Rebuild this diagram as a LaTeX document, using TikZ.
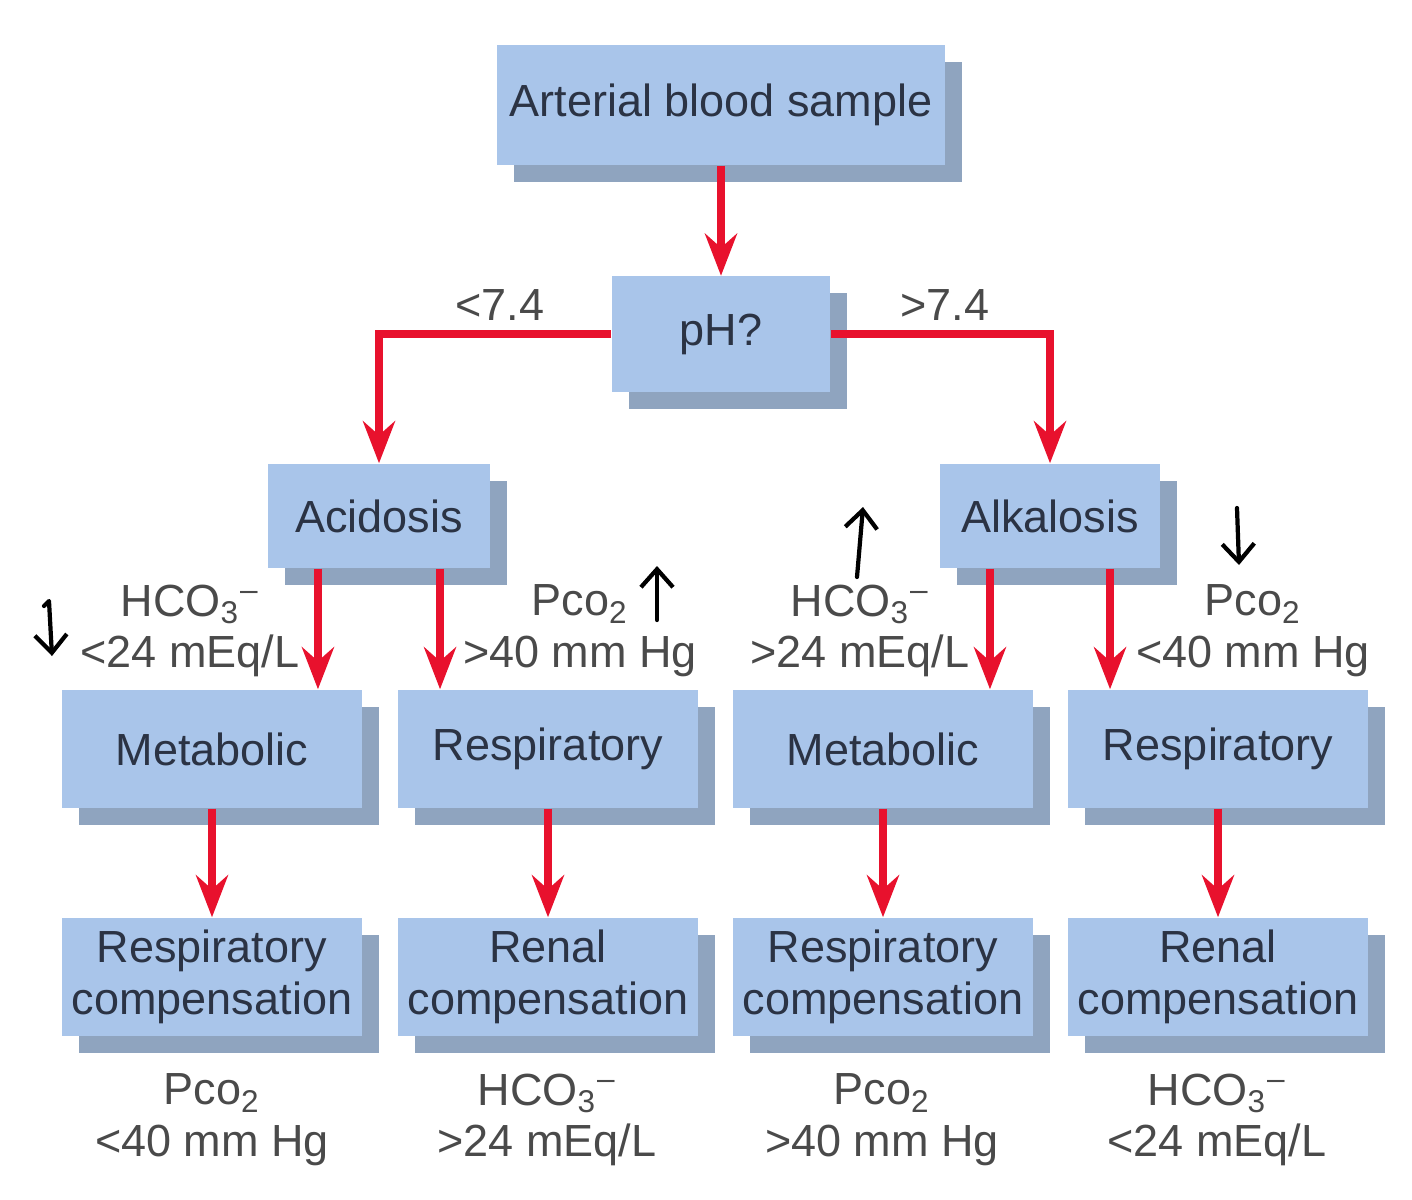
\documentclass[tikz,border=0pt]{standalone}
\usepackage{fontspec}
\setmainfont{Liberation Sans}
\usetikzlibrary{calc,positioning,shadows,arrows.meta}

\definecolor{boxblue}{HTML}{A9C5EA}
\definecolor{boxshade}{HTML}{8FA4BF}
\definecolor{arrowred}{HTML}{E8112D}
\definecolor{boxtext}{HTML}{2B3344}
\definecolor{labeltext}{HTML}{4A4A4A}

\newcommand{\hco}{HCO\textsubscript{3}\textsuperscript{--}}
\newcommand{\pco}{Pco\textsubscript{2}}

\begin{document}
\begin{tikzpicture}[x=0.01cm,y=-0.01cm]
\useasboundingbox (0,0) rectangle (1412,1200);
\tikzstyle{box}=[rectangle, fill=boxblue, text=boxtext, align=center,
                 inner sep=2pt, font=\fontsize{12.8}{14.7}\selectfont,
                 drop shadow={shadow xshift=0.17cm, shadow yshift=-0.17cm,
                              fill=boxshade, opacity=1}]
\tikzstyle{wide}=[minimum width=3cm, minimum height=1.18cm]
\tikzstyle{lbl}=[text=labeltext, align=center, inner sep=0pt,
                 font=\fontsize{12.8}{14.7}\selectfont]
\tikzstyle{redarrow}=[draw=arrowred, line width=2.5pt,
                      -{Stealth[length=4.2mm, width=3.2mm, inset=1.4mm]}]
\tikzstyle{pen}=[black, line width=1.2pt, line cap=round, line join=round,
                 -{Straight Barb[length=1.8mm, width=3.2mm]}]
% top of the tree
\node[box, minimum width=4.48cm, minimum height=1.2cm] (art) at (721,105) {Arterial blood sample};
\node[box, minimum width=2.18cm, minimum height=1.15cm] (ph) at (721,334) {pH?};
\node[box, minimum width=2.22cm, minimum height=1.04cm] (acid) at (379,516) {Acidosis};
\node[box, minimum width=2.2cm, minimum height=1.04cm] (alk) at (1050,516) {Alkalosis};
% disorders
\node[box, wide] (met1) at (212,749) {Metabolic};
\node[box, wide] (resp1) at (548,749) {Respiratory};
\node[box, wide] (met2) at (883,749) {Metabolic};
\node[box, wide] (resp2) at (1218,749) {Respiratory};
% compensation
\node[box, wide] (comp1) at (212,977) {Respiratory\\compensation};
\node[box, wide] (comp2) at (548,977) {Renal\\compensation};
\node[box, wide] (comp3) at (883,977) {Respiratory\\compensation};
\node[box, wide] (comp4) at (1218,977) {Renal\\compensation};
% labels
\node[lbl] (lt) at (500,305) {<7.4};
\node[lbl] (gt) at (945,305) {>7.4};
\node[lbl] (hco1) at (190,631) {\hco\\<24 mEq/L};
\node[lbl] (pco1) at (580,631) {\pco\\>40 mm Hg};
\node[lbl] (hco2) at (860,631) {\hco\\>24 mEq/L};
\node[lbl] (pco2) at (1253,631) {\pco\\<40 mm Hg};
\node[lbl] (res1) at (212,1120) {\pco\\<40 mm Hg};
\node[lbl] (res2) at (547,1120) {\hco\\>24 mEq/L};
\node[lbl] (res3) at (882,1120) {\pco\\>40 mm Hg};
\node[lbl] (res4) at (1217,1120) {\hco\\<24 mEq/L};
% red arrows
\draw[redarrow] (art) -- (ph);
\draw[redarrow] (ph.west) -| (acid.north);
\draw[redarrow] (ph.east) -| (alk.north);
\draw[redarrow] ([xshift=-0.61cm]acid.south) -- ([xshift=-0.61cm]acid.south |- met1.north);
\draw[redarrow] ([xshift=0.61cm]acid.south) -- ([xshift=0.61cm]acid.south |- resp1.north);
\draw[redarrow] ([xshift=-0.6cm]alk.south) -- ([xshift=-0.6cm]alk.south |- met2.north);
\draw[redarrow] ([xshift=0.6cm]alk.south) -- ([xshift=0.6cm]alk.south |- resp2.north);
\draw[redarrow] (met1) -- (comp1);
\draw[redarrow] (resp1) -- (comp2);
\draw[redarrow] (met2) -- (comp3);
\draw[redarrow] (resp2) -- (comp4);
% hand drawn marks
\coordinate (d1h) at (44,606);
\coordinate (d1s) at (49,601);
\coordinate (d1e) at (52,656);
\coordinate (u1s) at (657,620);
\coordinate (u1e) at (657,566);
\coordinate (u2s) at (857,577);
\coordinate (u2e) at (863,507);
\coordinate (d2s) at (1237,508);
\coordinate (d2e) at (1239,565);
\draw[pen] (d1h) -- (d1s) -- (d1e);
\draw[pen] (u1s) -- (u1e);
\draw[pen] (u2s) -- (u2e);
\draw[pen] (d2s) -- (d2e);
\end{tikzpicture}
\end{document}
